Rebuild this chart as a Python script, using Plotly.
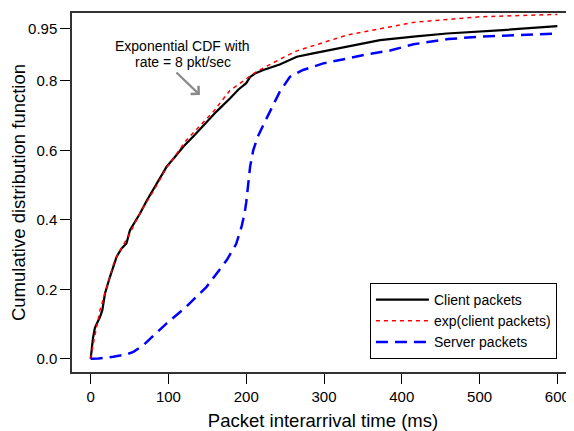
import plotly.graph_objects as go

client_x = [0, 3, 5.5, 12, 15, 18.4, 24.8, 33.4, 40, 46, 50.5, 56, 63.4, 72, 85, 97.7, 108, 119, 134, 149, 162, 179, 190, 200, 205, 212, 222, 243, 265, 286, 329, 372, 415, 458, 530, 600]
client_y = [0, 0.06, 0.09, 0.12, 0.14, 0.188, 0.236, 0.294, 0.318, 0.332, 0.37, 0.39, 0.418, 0.455, 0.505, 0.553, 0.58, 0.61, 0.645, 0.682, 0.712, 0.749, 0.775, 0.793, 0.811, 0.822, 0.831, 0.847, 0.869, 0.879, 0.898, 0.917, 0.927, 0.936, 0.946, 0.957]

exp_x = [0, 3.4, 12, 22.6, 31, 48, 65.5, 80, 97.7, 123, 158, 179, 213, 252, 265, 329, 415, 500, 600]
exp_y = [0, 0.044, 0.14, 0.217, 0.284, 0.351, 0.428, 0.48, 0.55, 0.629, 0.712, 0.772, 0.826, 0.872, 0.886, 0.931, 0.968, 0.984, 0.991]

server_x = [0, 10, 29, 45, 55, 67.7, 80, 97.7, 123, 149, 175, 187, 194, 198, 200, 202.7, 205, 209, 215, 222, 230.5, 235, 243, 256, 273, 299, 329, 360, 385, 415, 460, 500, 600]
server_y = [0, 0.001, 0.006, 0.012, 0.02, 0.039, 0.065, 0.102, 0.15, 0.207, 0.284, 0.33, 0.38, 0.42, 0.45, 0.505, 0.553, 0.60, 0.64, 0.673, 0.711, 0.735, 0.768, 0.811, 0.831, 0.85, 0.864, 0.878, 0.887, 0.905, 0.92, 0.927, 0.936]

y_tickvals = [0, 0.2, 0.4, 0.6, 0.8, 0.95]
y_ticktext = ["0.0", "0.2", "0.4", "0.6", "0.8", "0.95"]
x_tickvals = [0, 100, 200, 300, 400, 500, 600]

note_lines = ["Exponential CDF with", "rate = 8 pkt/sec"]

font_family = "Liberation Sans, Arial, Helvetica, sans-serif"

fig = go.Figure()
fig.add_trace(go.Scatter(x=client_x, y=client_y, mode="lines", name="Client packets",
                         line=dict(color="black", width=2.2)))
fig.add_trace(go.Scatter(x=exp_x, y=exp_y, mode="lines", name="exp(client packets)",
                         line=dict(color="red", width=1.5, dash="4px,4px")))
fig.add_trace(go.Scatter(x=server_x, y=server_y, mode="lines", name="Server packets",
                         line=dict(color="blue", width=2.5, dash="12px,7px")))

fig.add_annotation(
    x=140.5, y=0.759, ax=-25, ay=-24, xref="x", yref="y",
    text="", showarrow=True, arrowhead=4, arrowsize=1.0, arrowwidth=2.2, arrowcolor="#8a8a8a",
)
fig.add_annotation(x=118.7, y=0.900, xref="x", yref="y", showarrow=False, text=note_lines[0],
                   font=dict(size=14, color="black", family=font_family))
fig.add_annotation(x=118.7, y=0.854, xref="x", yref="y", showarrow=False, text=note_lines[1],
                   font=dict(size=14, color="black", family=font_family))

# the page body has an 8px margin, so the figure is sized to fill the rest of the window
fig.update_layout(
    width=566, height=423,
    margin=dict(l=64, r=0, t=5, b=59, autoexpand=False),
    paper_bgcolor="white", plot_bgcolor="white",
    font=dict(family=font_family, color="black", size=15),
    xaxis=dict(range=[-24.0, 621.4], tickvals=x_tickvals, ticks="outside", ticklen=10,
               tickwidth=1.2, tickcolor="black", showline=True, linecolor="#333", linewidth=1.5,
               mirror=True, showgrid=False, zeroline=False, automargin=False,
               title=dict(text="Packet interarrival time (ms)", font=dict(size=18.5), standoff=10),
               tickfont=dict(size=15)),
    yaxis=dict(range=[-0.038, 0.995], tickvals=y_tickvals, ticktext=y_ticktext, ticks="outside",
               ticklen=10, tickwidth=1.2, tickcolor="black", showline=True, linecolor="#333", linewidth=1.5,
               showgrid=False, zeroline=False, automargin=False,
               title=dict(text="Cumulative distribution function", font=dict(size=18.5), standoff=0),
               tickfont=dict(size=15)),
    legend=dict(x=0.966, y=0.0362, xanchor="right", yanchor="bottom",
                bordercolor="black", borderwidth=1, bgcolor="white",
                font=dict(size=14), tracegroupgap=0, itemwidth=53),
    showlegend=True,
)

fig.write_html("out.html")
